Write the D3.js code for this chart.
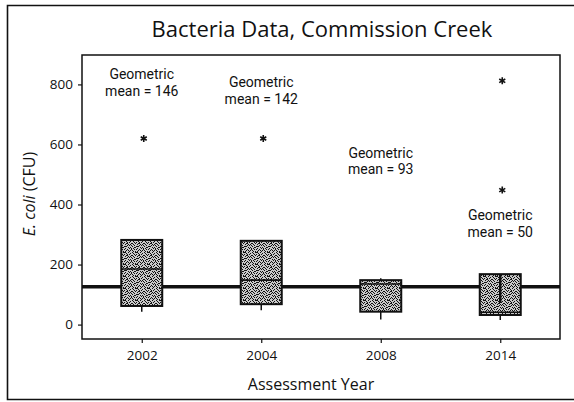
<!DOCTYPE html>
<html>
<head>
<meta charset="utf-8">
<script src="https://cdn.jsdelivr.net/npm/d3@7"></script>
<style>
  body { margin: 0; background: #fff; }
  text { font-family: "Open Sans", sans-serif; fill: #111; }
  .note { font-family: Roboto, sans-serif; }
</style>
</head>
<body>
<div id="chart"></div>
<script>
// values
const years = ["2002", "2004", "2008", "2014"];
const q1 = [62, 68, 43, 32];
const median = [185, 148, 135, 41];
const q3 = [282, 279, 148, 168];
const whiskerLow = [43, 48, 17, 15];
const whiskerHigh = [null, null, 154, null];
const stemLow = [null, null, null, 72];
const outlierYears = ["2002", "2004", "2014", "2014"];
const outlierValues = [620, 620, 812, 448];
const geoMeans = [146, 142, 93, 50];
const labelAt = [817, 791, 555, 348];
const criterion = 126;
const yTicks = [0, 200, 400, 600, 800];

const width = 574, height = 402;
const margin = { top: 55, right: 14, bottom: 63, left: 82 };
const boxW = 41;

// speckle tile for the box fill (texture only)
const speckle = "0,0 3,0 5,0 8,0 10,1 1,1 6,1 2,2 4,2 7,2 9,2 11,3 0,3 3,3 6,3 8,4 1,4 5,4 10,4 2,5 7,5 9,5 11,5 0,6 4,6 6,6 3,7 8,7 10,7 1,8 5,8 9,8 11,8 2,9 4,9 7,9 0,10 6,10 8,10 10,10 1,11 3,11 5,11 9,11 4,0 7,3 2,7 11,9 5,6";

const x = d3.scalePoint()
  .domain(years)
  .range([margin.left, width - margin.right])
  .padding(0.5);

const y = d3.scaleLinear()
  .domain([-48, 898])
  .range([height - margin.bottom, margin.top]);

const boxData = years.map((yr, i) => ({
  year: yr, q1: q1[i], median: median[i], q3: q3[i],
  lo: whiskerLow[i], hi: whiskerHigh[i], stem: stemLow[i]
}));

const svg = d3.select("#chart").append("svg")
  .attr("width", width)
  .attr("height", height);

const defs = svg.append("defs");

const pat = defs.append("pattern")
  .attr("id", "speckle")
  .attr("patternUnits", "userSpaceOnUse")
  .attr("width", 12)
  .attr("height", 12);
pat.append("rect").attr("width", 12).attr("height", 12).attr("fill", "#c9c9c9");
pat.selectAll("rect.dot")
  .data(speckle.split(" ").map(p => p.split(",").map(Number)))
  .join("rect")
  .attr("class", "dot")
  .attr("x", d => d[0]).attr("y", d => d[1])
  .attr("width", 1).attr("height", 1)
  .attr("fill", "#111");

// the criterion line is hidden wherever a box stands
const mask = defs.append("mask")
  .attr("id", "behindBoxes")
  .attr("maskUnits", "userSpaceOnUse")
  .attr("x", 0).attr("y", 0).attr("width", width).attr("height", height);
mask.append("rect").attr("width", width).attr("height", height).attr("fill", "#fff");
mask.selectAll("rect.hole")
  .data(boxData)
  .join("rect")
  .attr("class", "hole")
  .attr("x", d => x(d.year) - boxW / 2)
  .attr("y", d => y(d.q3))
  .attr("width", boxW)
  .attr("height", d => y(d.q1) - y(d.q3))
  .attr("fill", "#000");

// outer frame
svg.append("path")
  .attr("d", `M${width},5.5H7.5V399.5H${width}`)
  .attr("fill", "none")
  .attr("stroke", "#111")
  .attr("stroke-width", 1.6);

// title
svg.append("text")
  .attr("x", 322)
  .attr("y", 37)
  .attr("text-anchor", "middle")
  .style("font-size", "22px")
  .text("Bacteria Data, Commission Creek");

// AXES
svg.append("g")
  .attr("transform", `translate(${margin.left},0)`)
  .call(d3.axisLeft(y).tickValues(yTicks).tickSize(4).tickPadding(5).tickSizeOuter(0))
  .call(g => g.select(".domain").remove())
  .call(g => g.selectAll("line").attr("stroke", "#111").attr("stroke-width", 1.2))
  .call(g => g.selectAll("text").style("font-size", "13.5px").attr("fill", "#111"));

svg.append("g")
  .attr("transform", `translate(0,${height - margin.bottom})`)
  .call(d3.axisBottom(x).tickSize(4).tickPadding(7).tickSizeOuter(0))
  .call(g => g.select(".domain").remove())
  .call(g => g.selectAll("line").attr("stroke", "#111").attr("stroke-width", 1.2))
  .call(g => g.selectAll("text").style("font-size", "13.5px").attr("fill", "#111"));

// axis titles
svg.append("text")
  .attr("x", 311)
  .attr("y", 390)
  .attr("text-anchor", "middle")
  .style("font-size", "16px")
  .text("Assessment Year");

const yl = svg.append("text")
  .attr("transform", "translate(35,194) rotate(-90)")
  .attr("text-anchor", "middle")
  .style("font-size", "16px");
yl.append("tspan").style("font-style", "italic").text("E. coli");
yl.append("tspan").text(" (CFU)");

// criterion line
svg.append("line")
  .attr("x1", margin.left)
  .attr("x2", width - margin.right)
  .attr("y1", y(criterion))
  .attr("y2", y(criterion))
  .attr("stroke", "#111")
  .attr("stroke-width", 3.5)
  .attr("mask", "url(#behindBoxes)");

// BOXES
const box = svg.append("g")
  .selectAll("g")
  .data(boxData)
  .join("g");

box.append("line")
  .attr("x1", d => x(d.year)).attr("x2", d => x(d.year))
  .attr("y1", d => y(d.q1)).attr("y2", d => y(d.lo))
  .attr("stroke", "#111").attr("stroke-width", 1.5);

box.filter(d => d.hi != null).append("line")
  .attr("x1", d => x(d.year)).attr("x2", d => x(d.year))
  .attr("y1", d => y(d.q3)).attr("y2", d => y(d.hi))
  .attr("stroke", "#111").attr("stroke-width", 1.5);

box.append("rect")
  .attr("x", d => x(d.year) - boxW / 2)
  .attr("y", d => y(d.q3))
  .attr("width", boxW)
  .attr("height", d => y(d.q1) - y(d.q3))
  .attr("fill", "url(#speckle)")
  .attr("stroke", "#111")
  .attr("stroke-width", 2);

box.append("line")
  .attr("x1", d => x(d.year) - boxW / 2).attr("x2", d => x(d.year) + boxW / 2)
  .attr("y1", d => y(d.median)).attr("y2", d => y(d.median))
  .attr("stroke", "#111").attr("stroke-width", 1.6);

box.filter(d => d.stem != null).append("line")
  .attr("x1", d => x(d.year)).attr("x2", d => x(d.year))
  .attr("y1", d => y(d.q3)).attr("y2", d => y(d.stem))
  .attr("stroke", "#111").attr("stroke-width", 2.5);

// OUTLIERS
svg.selectAll(".outlier")
  .data(outlierValues)
  .join("path")
  .attr("class", "outlier")
  .attr("transform", (d, i) => `translate(${x(outlierYears[i]) + 2},${y(d)})`)
  .attr("d", d3.symbol(d3.symbolAsterisk, 34))
  .attr("fill", "none")
  .attr("stroke", "#111")
  .attr("stroke-width", 1.6);

// geometric mean notes
const note = svg.selectAll(".note")
  .data(geoMeans)
  .join("text")
  .attr("class", "note")
  .attr("text-anchor", "middle")
  .attr("y", (d, i) => y(labelAt[i]))
  .style("font-size", "14px");
note.append("tspan")
  .attr("x", (d, i) => x(years[i]))
  .text("Geometric");
note.append("tspan")
  .attr("x", (d, i) => x(years[i]))
  .attr("dy", 16.5)
  .text(d => `mean = ${d}`);

// plot frame
svg.append("rect")
  .attr("x", margin.left)
  .attr("y", margin.top)
  .attr("width", width - margin.left - margin.right)
  .attr("height", height - margin.top - margin.bottom)
  .attr("fill", "none")
  .attr("stroke", "#111")
  .attr("stroke-width", 1.5);
</script>
</body>
</html>
